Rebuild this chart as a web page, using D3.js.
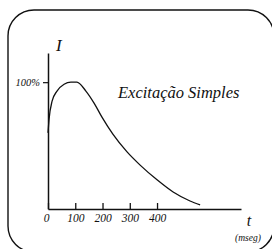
<!DOCTYPE html>
<html>
<head>
<meta charset="utf-8">
<script src="https://cdn.jsdelivr.net/npm/d3@7"></script>
<style>
  body { margin: 0; background: #fff; }
</style>
</head>
<body>
<div id="chart"></div>
<script>
// curve: time in ms, intensity in %
const times = [0, 4, 15, 33, 59, 84, 106, 139, 169, 198, 238, 290, 338, 400, 459, 521, 558];
const intensity = [60, 71, 85, 93, 98.4, 100, 100, 93, 83.5, 72.4, 59, 45, 34.6, 23, 13.4, 6.3, 3.2];
const xTicks = [0, 100, 200, 300, 400];
const yTicks = [100];
const title = "Excitação Simples";

const width = 272, height = 249;
const serif = "'Liberation Serif', 'Times New Roman', 'DejaVu Serif', serif";

const svg = d3
  .select("#chart")
  .append("svg")
  .attr("width", width)
  .attr("height", height);

// rounded frame, runs slightly past the right / bottom edge
svg
  .append("rect")
  .attr("x", 8)
  .attr("y", 10)
  .attr("width", 266)
  .attr("height", 242)
  .attr("rx", 26)
  .attr("fill", "none")
  .attr("stroke", "#111")
  .attr("stroke-width", 1.4);

const x = d3.scaleLinear().domain([0, 708]).range([48, 241]);
const y = d3.scaleLinear().domain([0, 123]).range([209, 53]);

// x axis: ticks point up, labels below
const xAxis = svg
  .append("g")
  .attr("transform", `translate(0, ${y(0)})`)
  .call(
    d3
      .axisBottom(x)
      .tickValues(xTicks)
      .tickSizeInner(-6)
      .tickSizeOuter(0)
      .tickPadding(5)
  );
xAxis.attr("font-family", serif).attr("font-size", 11.5).attr("font-style", "italic");
xAxis.select(".domain").attr("stroke", "#111").attr("stroke-width", 1.5);
xAxis.selectAll(".tick line").attr("stroke", "#111").attr("stroke-width", 1.3);
xAxis
  .selectAll(".tick text")
  .attr("fill", "#111")
  .attr("dx", (d) => (d === 0 ? -2 : 0));

// y axis
const yAxis = svg
  .append("g")
  .attr("transform", `translate(${x(0)}, 0)`)
  .call(
    d3
      .axisLeft(y)
      .tickValues(yTicks)
      .tickFormat((d) => d + "%")
      .tickSizeInner(5)
      .tickSizeOuter(0)
      .tickPadding(3)
  );
yAxis.attr("font-family", serif).attr("font-size", 10.5).attr("font-style", "italic");
yAxis.select(".domain").attr("stroke", "#111").attr("stroke-width", 1.5);
yAxis.selectAll(".tick line").attr("stroke", "#111").attr("stroke-width", 1.2);
yAxis.selectAll(".tick text").attr("fill", "#111");

// the response curve
const line = d3
  .line()
  .x((d, i) => x(times[i]))
  .y((d) => y(d))
  .curve(d3.curveMonotoneX);

svg
  .append("path")
  .datum(intensity)
  .attr("d", line)
  .attr("fill", "none")
  .attr("stroke", "#111")
  .attr("stroke-width", 1.3);

// labels
const label = (tx, ty, size, str, anchor) =>
  svg
    .append("text")
    .attr("x", tx)
    .attr("y", ty)
    .attr("text-anchor", anchor || "start")
    .attr("font-family", serif)
    .attr("font-style", "italic")
    .attr("font-size", size)
    .attr("fill", "#111")
    .text(str);

label(56, 51, 17, "I");
label(118, 98, 16.5, title);
label(249, 226, 16, "t", "middle");
label(248, 241, 9.5, "(mseg)", "middle");
</script>
</body>
</html>
